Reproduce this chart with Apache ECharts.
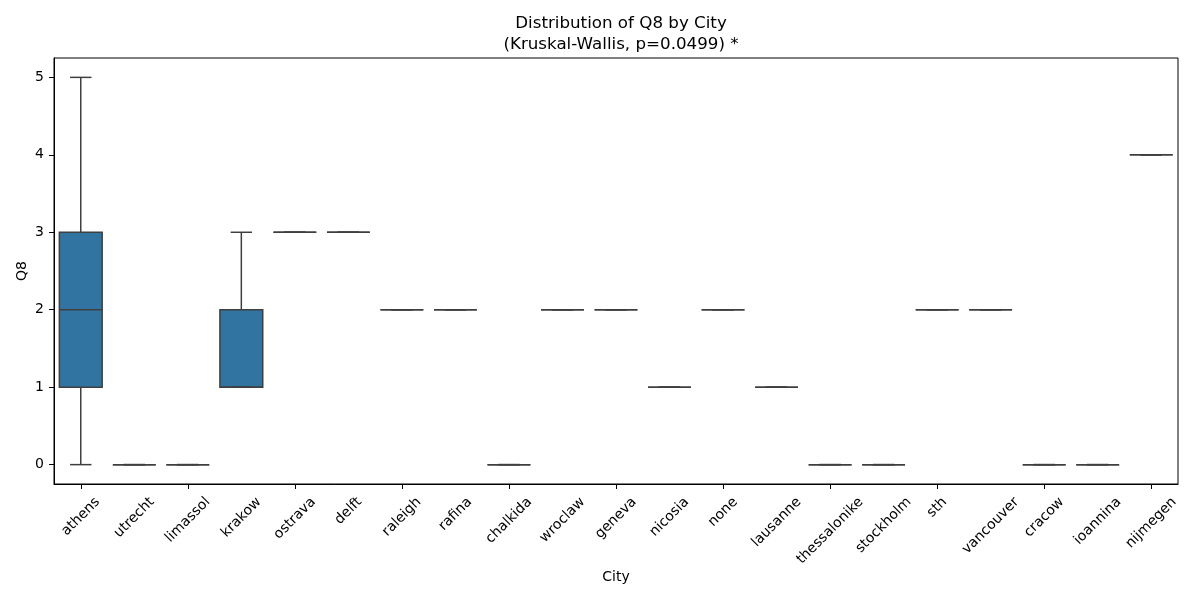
<!DOCTYPE html>
<html>
<head>
<meta charset="utf-8">
<script src="https://cdn.jsdelivr.net/npm/echarts@6/dist/echarts.min.js"></script>
<style>
  html, body { margin: 0; padding: 0; background: #fff; }
  #chart { width: 1200px; height: 600px; }
</style>
</head>
<body>
<div id="chart"></div>
<script>
// data
var cities = ['athens', 'utrecht', 'limassol', 'krakow', 'ostrava', 'delft', 'raleigh', 'rafina',
  'chalkida', 'wroclaw', 'geneva', 'nicosia', 'none', 'lausanne', 'thessalonike', 'stockholm',
  'sth', 'vancouver', 'cracow', 'ioannina', 'nijmegen'];
var mins    = [0, 0, 0, 1, 3, 3, 2, 2, 0, 2, 2, 1, 2, 1, 0, 0, 2, 2, 0, 0, 4];
var q1s     = [1, 0, 0, 1, 3, 3, 2, 2, 0, 2, 2, 1, 2, 1, 0, 0, 2, 2, 0, 0, 4];
var medians = [2, 0, 0, 1, 3, 3, 2, 2, 0, 2, 2, 1, 2, 1, 0, 0, 2, 2, 0, 0, 4];
var q3s     = [3, 0, 0, 2, 3, 3, 2, 2, 0, 2, 2, 1, 2, 1, 0, 0, 2, 2, 0, 0, 4];
var maxs    = [5, 0, 0, 3, 3, 3, 2, 2, 0, 2, 2, 1, 2, 1, 0, 0, 2, 2, 0, 0, 4];
var yTicks  = [0, 1, 2, 3, 4, 5];

var rows = [];
var labelRows = [];
for (var i = 0; i < cities.length; i++) {
    rows.push([i, mins[i], q1s[i], medians[i], q3s[i], maxs[i]]);
    labelRows.push([i, 0]);
}

var edge = '#3f3f3f';
var fill = '#3274a1';
var fontFamily = 'DejaVu Sans';
var tickFont = 14;

// text width, for centring the rotated tick labels like matplotlib does
var measureCtx = document.createElement('canvas').getContext('2d');
measureCtx.font = tickFont + 'px ' + fontFamily;

function renderBox(params, api) {
    var x = api.value(0);
    var pMin = api.coord([x, api.value(1)]);
    var pQ1 = api.coord([x, api.value(2)]);
    var pMed = api.coord([x, api.value(3)]);
    var pQ3 = api.coord([x, api.value(4)]);
    var pMax = api.coord([x, api.value(5)]);
    var bw = api.size([1, 0])[0] * 0.8;
    var cx = pMed[0];
    var lineStyle = { stroke: edge, lineWidth: 1.5, fill: null };
    return {
        type: 'group',
        children: [
            { type: 'rect', shape: { x: cx - bw / 2, y: pQ3[1], width: bw, height: pQ1[1] - pQ3[1] },
              style: { fill: fill, stroke: edge, lineWidth: 1.5 } },
            { type: 'line', shape: { x1: cx, y1: pQ1[1], x2: cx, y2: pMin[1] }, style: lineStyle },
            { type: 'line', shape: { x1: cx, y1: pQ3[1], x2: cx, y2: pMax[1] }, style: lineStyle },
            { type: 'line', shape: { x1: cx - bw / 4, y1: pMin[1], x2: cx + bw / 4, y2: pMin[1] }, style: lineStyle },
            { type: 'line', shape: { x1: cx - bw / 4, y1: pMax[1], x2: cx + bw / 4, y2: pMax[1] }, style: lineStyle },
            { type: 'line', shape: { x1: cx - bw / 2, y1: pMed[1], x2: cx + bw / 2, y2: pMed[1] }, style: lineStyle }
        ]
    };
}

// rotated category labels, centred under the tick (matplotlib rotation=45)
function renderLabel(params, api) {
    var idx = api.value(0);
    var cx = api.coord([idx, 0])[0];
    var axisY = params.coordSys.y + params.coordSys.height;
    var text = cities[idx];
    var w = measureCtx.measureText(text).width;
    var h = tickFont * 1.17;
    var boxH = (w + h) / Math.SQRT2;
    return {
        type: 'text',
        x: cx,
        y: axisY + 5 + 5 + boxH / 2,
        rotation: Math.PI / 4,
        style: {
            text: text,
            fill: '#000',
            font: tickFont + 'px ' + fontFamily,
            align: 'center',
            verticalAlign: 'middle'
        }
    };
}

var chart = echarts.init(document.getElementById('chart'));
var option = {
    backgroundColor: '#fff',
    animation: false,
    textStyle: { fontFamily: fontFamily },
    title: {
        text: 'Distribution of Q8 by City\n(Kruskal-Wallis, p=0.0499) *',
        left: 616,
        textAlign: 'center',
        top: 8,
        textStyle: { fontFamily: fontFamily, fontSize: 16.7, fontWeight: 'normal', color: '#000', lineHeight: 21 }
    },
    grid: {
        left: 54, right: 22, top: 58, bottom: 116,
        show: true, borderColor: '#000', borderWidth: 1, backgroundColor: 'transparent'
    },
    xAxis: {
        type: 'category',
        data: cities,
        name: 'City',
        nameLocation: 'middle',
        nameGap: 86,
        nameMoveOverlap: false,
        nameTextStyle: { fontSize: tickFont, color: '#000' },
        axisLine: { show: true, onZero: false, lineStyle: { color: '#000', width: 1 } },
        axisTick: { show: true, alignWithLabel: true, length: 5, lineStyle: { color: '#000' } },
        axisLabel: { show: false },
        splitLine: { show: false }
    },
    yAxis: {
        type: 'value',
        min: -0.25,
        max: 5.25,
        name: 'Q8',
        nameLocation: 'middle',
        nameGap: 25,
        nameMoveOverlap: false,
        nameTextStyle: { fontSize: tickFont, color: '#000' },
        axisLine: { show: true, lineStyle: { color: '#000', width: 1 } },
        axisTick: { show: true, length: 5, customValues: yTicks, lineStyle: { color: '#000' } },
        axisLabel: { fontSize: tickFont, color: '#000', margin: 10, customValues: yTicks },
        splitLine: { show: false }
    },
    series: [{
        type: 'custom',
        renderItem: renderBox,
        encode: { x: 0, y: [1, 2, 3, 4, 5] },
        data: rows
    }, {
        type: 'custom',
        renderItem: renderLabel,
        clip: false,
        silent: true,
        encode: { x: 0, y: 1 },
        data: labelRows
    }]
};
chart.setOption(option);
</script>
</body>
</html>
